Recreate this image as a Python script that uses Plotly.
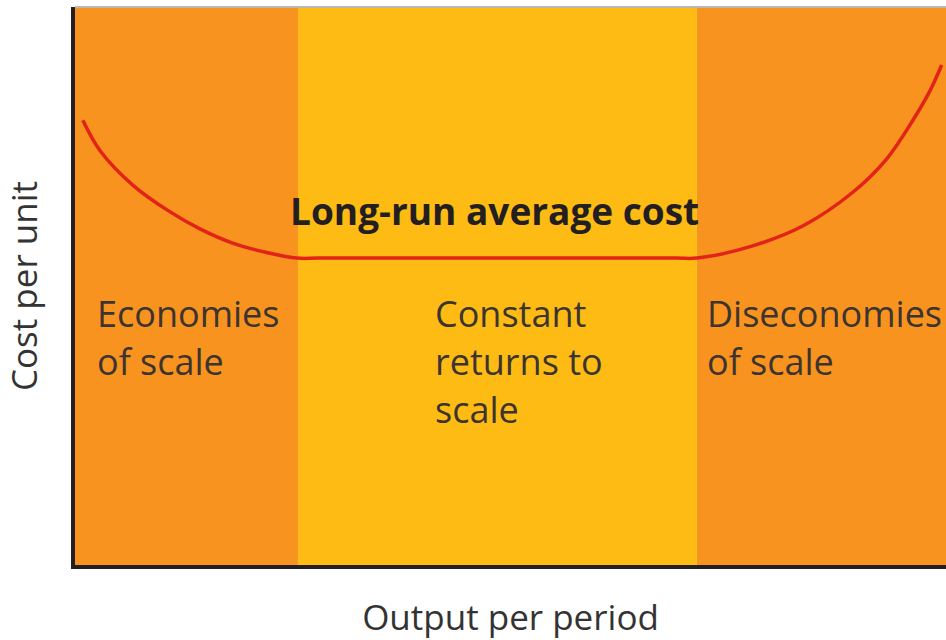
import plotly.graph_objects as go

# =========================
# DATA
# =========================
region_bounds = [0, 25.6, 71.4, 100]
region_colors = ["#F7931E", "#FDBB13", "#F7931E"]
region_labels = [
    ["Economies", "of scale"],
    ["Constant", "returns to", "scale"],
    ["Diseconomies", "of scale"],
]
region_label_x = [2.3, 41.1, 72.3]

curve_x = [0.9, 2.9, 6.7, 10.6, 14.4, 18.1, 22.0, 25.5, 28.0, 48.5, 69.0, 71.4, 77.8, 83.6, 89.3, 93.2, 96.2, 98.2, 99.5]
curve_y = [79.7, 74.2, 68.0, 63.6, 60.2, 57.7, 56.0, 55.0, 55.0, 55.0, 55.0, 55.0, 57.2, 60.8, 66.8, 72.8, 79.7, 85.1, 89.6]
curve_label = "Long-run average cost"

x_title = "Output per period"
y_title = "Cost per unit"

FONT = "Open Sans"

# =========================
# PLOT
# =========================
fig = go.Figure()

for i, col in enumerate(region_colors):
    fig.add_shape(
        type="rect", xref="x", yref="y",
        x0=region_bounds[i], x1=region_bounds[i + 1], y0=0, y1=100,
        fillcolor=col, line=dict(width=0), layer="below",
    )

# faint grey edge along the top
fig.add_shape(
    type="line", xref="paper", yref="paper",
    x0=0, x1=1, y0=1, y1=1,
    line=dict(color="#B8B8B8", width=2),
)

fig.add_trace(go.Scatter(
    x=curve_x, y=curve_y,
    mode="lines",
    line=dict(color="#E2231A", width=3.5, shape="spline", smoothing=1.0),
    hoverinfo="skip",
    showlegend=False,
))

fig.add_annotation(
    x=48.2, y=63.6, xref="x", yref="y",
    text="<b>" + curve_label + "</b>",
    showarrow=False,
    font=dict(family=FONT, size=37, color="#231F20"),
)

line_gap = 8.6
for lines, lx in zip(region_labels, region_label_x):
    for j, txt in enumerate(lines):
        fig.add_annotation(
            x=lx, y=45.0 - j * line_gap, xref="x", yref="y",
            text=txt, showarrow=False,
            xanchor="left", yanchor="middle",
            font=dict(family=FONT, size=36, color="#3C3431"),
        )

# =========================
# LAYOUT
# =========================
fig.update_layout(
    width=946, height=640,
    margin=dict(l=75, r=0, t=7, b=75),
    paper_bgcolor="white",
    plot_bgcolor="white",
    showlegend=False,
    xaxis=dict(
        range=[0, 100], showgrid=False, zeroline=False, showticklabels=False,
        ticks="", showline=True, linewidth=4, linecolor="#231F20",
        title=dict(text=x_title, font=dict(family=FONT, size=35, color="#333333"), standoff=40),
    ),
    yaxis=dict(
        range=[0, 100], showgrid=False, zeroline=False, showticklabels=False,
        ticks="", showline=True, linewidth=4, linecolor="#231F20",
        title=dict(text=y_title, font=dict(family=FONT, size=35, color="#333333"), standoff=24),
    ),
)

fig.write_html("out.html", config={"displayModeBar": False},
               post_script="document.body.style.margin='0';")
